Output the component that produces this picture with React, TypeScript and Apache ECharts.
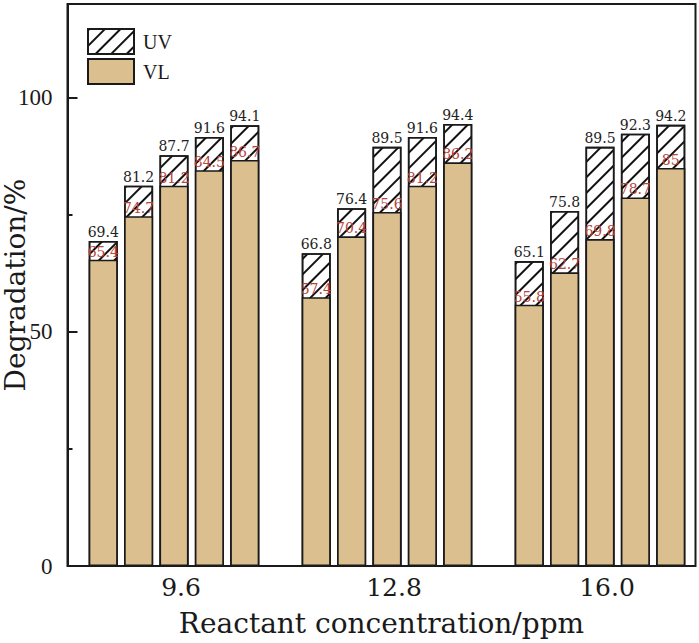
import React, { useEffect, useRef } from "react";
import * as echarts from "echarts";

const categories = ["9.6", "12.8", "16.0"];
// five bars per concentration group
const uvGroup96 = [69.4, 81.2, 87.7, 91.6, 94.1];
const uvGroup128 = [66.8, 76.4, 89.5, 91.6, 94.4];
const uvGroup160 = [65.1, 75.8, 89.5, 92.3, 94.2];
const vlGroup96 = [65.4, 74.7, 81.2, 84.5, 86.7];
const vlGroup128 = [57.4, 70.4, 75.6, 81.2, 86.2];
const vlGroup160 = [55.8, 62.7, 69.8, 78.7, 85];
const yMajorTicks = [0, 50, 100];
const yMinorTicks = [25, 75];

const uvGroups = [uvGroup96, uvGroup128, uvGroup160];
const vlGroups = [vlGroup96, vlGroup128, vlGroup160];

const TAN = "#dcbf8e";
const INK = "#1a1a1a";
const RED = "#b8443e";

export default function App() {
  const ref = useRef<HTMLDivElement>(null);

  useEffect(() => {
    document.body.style.margin = "0";
    if (!ref.current) return;
    const chart = echarts.init(ref.current, undefined, { renderer: "svg" });

    const hatch = {
      symbol: "rect",
      symbolSize: 1,
      color: "#111",
      dashArrayX: [1, 0],
      dashArrayY: [1.2, 8.5],
      rotation: -Math.PI / 4,
    };

    const series: any[] = [];
    for (let i = 0; i < 5; i++) {
      series.push({
        name: "UV",
        type: "bar",
        xAxisIndex: 0,
        yAxisIndex: 0,
        barWidth: 29,
        barGap: "22%",
        z: 2,
        data: uvGroups.map((g) => g[i]),
        itemStyle: {
          color: "#ffffff",
          borderColor: INK,
          borderWidth: 1.6,
          decal: hatch,
        },
        label: {
          show: true,
          position: "top",
          distance: 2,
          color: "#222",
          fontSize: 14,
          fontFamily: "DejaVu Serif",
        },
      });
    }
    for (let i = 0; i < 5; i++) {
      series.push({
        name: "VL",
        type: "bar",
        xAxisIndex: 1,
        yAxisIndex: 0,
        barWidth: 29,
        barGap: "22%",
        z: 3,
        data: vlGroups.map((g) => g[i]),
        itemStyle: {
          color: TAN,
          borderColor: INK,
          borderWidth: 1.6,
        },
        label: {
          show: true,
          position: "top",
          distance: 1,
          color: RED,
          fontSize: 14,
          fontFamily: "DejaVu Serif",
        },
      });
    }

    chart.setOption({
      animation: false,
      backgroundColor: "#ffffff",
      grid: {
        left: 67.5,
        top: 4,
        width: 639,
        bottom: 77,
        containLabel: false,
        outerBoundsMode: "none",
      },
      legend: {
        data: ["UV", "VL"],
        orient: "vertical",
        left: 87,
        top: 28,
        padding: 0,
        itemWidth: 46,
        itemHeight: 25,
        itemGap: 3,
        icon: "rect",
        textStyle: {
          fontSize: 20,
          fontFamily: "Liberation Serif",
          color: INK,
          padding: [0, 0, 0, 4],
        },
      },
      xAxis: [
        {
          type: "category",
          data: categories,
          position: "bottom",
          axisLine: { show: false },
          axisTick: { show: false },
          axisLabel: {
            fontSize: 25,
            fontFamily: "DejaVu Serif",
            color: INK,
            margin: 9,
            padding: [0, 0, 0, 14],
          },
          name: "Reactant concentration/ppm",
          nameLocation: "middle",
          nameGap: 43,
          nameTextStyle: {
            fontSize: 28,
            fontFamily: "DejaVu Serif",
            color: INK,
            padding: [0, 11, 0, 0],
          },
        },
        {
          type: "category",
          data: categories,
          position: "bottom",
          show: false,
        },
      ],
      yAxis: [
        {
          type: "value",
          min: 0,
          max: 120,
          interval: 50,
          position: "left",
          axisLine: { show: true, lineStyle: { color: INK, width: 2 } },
          axisTick: {
            show: true,
            inside: true,
            length: 10,
            customValues: yMajorTicks,
            lineStyle: { color: INK, width: 2 },
          },
          axisLabel: {
            customValues: yMajorTicks,
            fontSize: 23,
            fontFamily: "Liberation Serif",
            color: INK,
            margin: 15,
          },
          splitLine: { show: false },
          name: "Degradation/%",
          nameLocation: "middle",
          nameGap: 38,
          nameMoveOverlap: false,
          nameTextStyle: {
            fontSize: 28,
            fontFamily: "DejaVu Serif",
            color: INK,
          },
        },
        {
          type: "value",
          min: 0,
          max: 120,
          interval: 50,
          position: "left",
          axisLine: { show: false },
          axisTick: {
            show: true,
            inside: true,
            length: 5,
            customValues: yMinorTicks,
            lineStyle: { color: INK, width: 2 },
          },
          axisLabel: { show: false },
          splitLine: { show: false },
        },
      ],
      graphic: [
        {
          type: "rect",
          silent: true,
          z: 100,
          shape: { x: 67.5, y: 4, width: 628, height: 562 },
          style: { fill: "none", stroke: INK, lineWidth: 2 },
        },
      ],
      series,
    });

    return () => chart.dispose();
  }, []);

  return <div ref={ref} style={{ width: 699, height: 643 }} />;
}
